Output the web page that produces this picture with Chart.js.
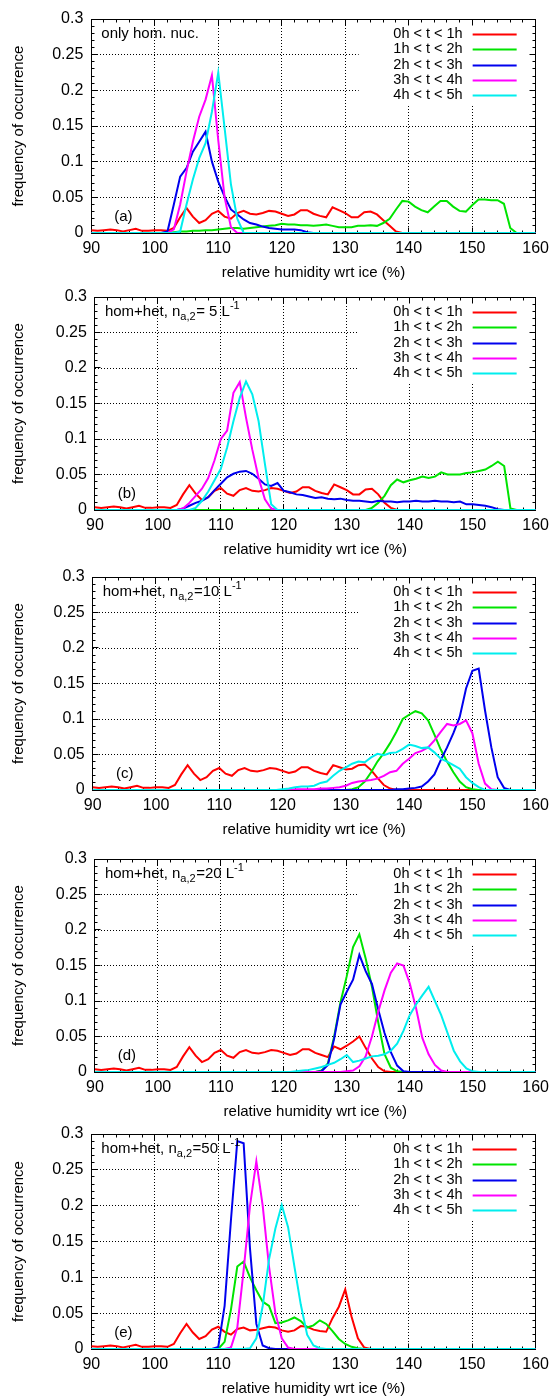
<!DOCTYPE html>
<html>
<head>
<meta charset="utf-8">
<script src="https://cdn.jsdelivr.net/npm/chart.js@4.4.0/dist/chart.umd.min.js"></script>
<style>
html,body{margin:0;padding:0;background:#fff;}
#wrap{position:relative;width:555px;height:1396px;overflow:hidden;background:#fff;}
#wrap canvas{position:absolute;left:0;}
</style>
</head>
<body>
<div id="wrap"></div>
<script>
// ---------- data ----------
const rh = [90,91,92,93,94,95,96,97,98,99,
            100,101,102,103,104,105,106,107,108,109,
            110,111,112,113,114,115,116,117,118,119,
            120,121,122,123,124,125,126,127,128,129,
            130,131,132,133,134,135,136,137,138,139,
            140,141,142,143,144,145,146,147,148,149,
            150,151,152,153,154,155,156,157,158,159,
            160];
const seriesLabels = ['0h < t < 1h','1h < t < 2h','2h < t < 3h','3h < t < 4h','4h < t < 5h'];
const xTickLabels = ['90','100','110','120','130','140','150','160'];
const yTickLabels = ['0','0.05','0.1','0.15','0.2','0.25','0.3'];
const panelTags = ['(a)','(b)','(c)','(d)','(e)'];

// panel (a): only hom. nuc.
const redA = [.004,.003,.004,.005,.004,.002,.004,.006,.003,.003,
              .004,.004,.003,.007,.022,.035,.023,.014,.018,.027,
              .031,.023,.020,.028,.031,.027,.026,.028,.031,.030,
              .027,.024,.026,.032,.032,.027,.024,.022,.036,.032,
              .028,.022,.022,.029,.030,.026,.018,.010,.002,0,
              0,0,0,0,0,0,0,0,0,0,
              0,0,0,0,0,0,0,0,0,0,
              0];
const greenA = [0,0,0,0,0,0,0,0,0,0,
              0,0,0,.001,.002,.002,.003,.003,.004,.004,
              .005,.006,.007,.007,.006,.007,.008,.009,.010,.011,
              .013,.012,.012,.011,.011,.010,.011,.012,.010,.008,
              .008,.008,.010,.010,.011,.010,.014,.020,.033,.045,
              .044,.037,.032,.029,.037,.045,.045,.037,.031,.030,
              .039,.047,.047,.046,.046,.041,.007,0,0,0,
              0];
const blueA = [0,0,0,0,0,0,0,0,0,0,
              0,0,.002,.040,.079,.091,.114,.128,.142,.100,
              .072,.051,.033,.026,.019,.014,.012,.009,.007,.006,
              .005,.005,.005,.004,.001,0,0,0,0,0,
              0,0,0,0,0,0,0,0,0,0,
              0,0,0,0,0,0,0,0,0,0,
              0,0,0,0,0,0,0,0,0,0,
              0];
const magentaA = [0,0,0,0,0,0,0,0,0,0,
              0,0,0,.005,.040,.086,.128,.163,.187,.221,
              .130,.050,.008,0,0,0,0,0,0,0,
              0,0,0,0,0,0,0,0,0,0,
              0,0,0,0,0,0,0,0,0,0,
              0,0,0,0,0,0,0,0,0,0,
              0,0,0,0,0,0,0,0,0,0,
              0];
const cyanA = [0,0,0,0,0,0,0,0,0,0,
              0,0,0,0,.002,.040,.075,.105,.126,.170,
              .225,.147,.068,.020,0,0,0,0,0,0,
              0,0,0,0,0,0,0,0,0,0,
              0,0,0,0,0,0,0,0,0,0,
              0,0,0,0,0,0,0,0,0,0,
              0,0,0,0,0,0,0,0,0,0,
              0];

// panel (b): hom+het, 5 /L
const redB = [.004,.003,.004,.005,.004,.002,.004,.006,.003,.003,
              .004,.004,.003,.007,.022,.035,.023,.014,.018,.027,
              .031,.023,.020,.028,.031,.027,.026,.028,.031,.030,
              .027,.024,.026,.032,.032,.027,.024,.022,.036,.032,
              .028,.022,.022,.029,.030,.022,.010,.003,0,0,
              0,0,0,0,0,0,0,0,0,0,
              0,0,0,0,0,0,0,0,0,0,
              0];
const greenB = [0,0,0,0,0,0,0,0,0,0,
              0,0,0,0,0,0,0,0,0,0,
              0,0,0,0,0,0,0,0,0,0,
              0,0,0,0,0,0,0,0,0,0,
              0,0,0,0,.003,.010,.020,.035,.043,.039,
              .042,.044,.047,.045,.047,.053,.050,.050,.050,.052,
              .053,.055,.057,.062,.068,.062,.002,0,0,0,
              0];
const blueB = [0,0,0,0,0,0,0,0,0,0,
              0,0,0,0,.002,.006,.010,.013,.018,.028,
              .037,.046,.051,.054,.055,.051,.044,.036,.034,.038,
              .027,.025,.022,.021,.019,.017,.018,.016,.015,.016,
              .014,.013,.013,.012,.011,.013,.012,.012,.011,.012,
              .012,.013,.012,.012,.013,.012,.012,.011,.012,.008,
              .008,.007,.006,.004,.001,0,0,0,0,0,
              0];
const magentaB = [0,0,0,0,0,0,0,0,0,0,
              0,0,0,0,.002,.010,.020,.030,.045,.070,
              .100,.112,.165,.180,.130,.085,.045,.015,.002,0,
              0,0,0,0,0,0,0,0,0,0,
              0,0,0,0,0,0,0,0,0,0,
              0,0,0,0,0,0,0,0,0,0,
              0,0,0,0,0,0,0,0,0,0,
              0];
const cyanB = [0,0,0,0,0,0,0,0,0,0,
              0,0,0,0,0,0,.003,.013,.026,.042,
              .058,.088,.125,.158,.181,.163,.125,.065,.008,0,
              0,0,0,0,0,0,0,0,0,0,
              0,0,0,0,0,0,0,0,0,0,
              0,0,0,0,0,0,0,0,0,0,
              0,0,0,0,0,0,0,0,0,0,
              0];

// panel (c): hom+het, 10 /L
const redC = [.004,.003,.004,.005,.004,.002,.004,.006,.003,.003,
              .004,.004,.003,.007,.022,.035,.023,.014,.018,.027,
              .031,.023,.020,.028,.031,.027,.026,.028,.031,.030,
              .027,.024,.026,.032,.032,.027,.024,.022,.035,.032,
              .029,.030,.035,.036,.028,.017,.007,.002,0,0,
              0,0,0,0,0,0,0,0,0,0,
              0,0,0,0,0,0,0,0,0,0,
              0];
const greenC = [0,0,0,0,0,0,0,0,0,0,
              0,0,0,0,0,0,0,0,0,0,
              0,0,0,0,0,0,0,0,0,0,
              0,0,0,0,0,0,0,0,0,0,
              0,.001,.004,.012,.025,.040,.052,.066,.082,.100,
              .106,.111,.108,.098,.078,.057,.040,.025,.012,.004,
              .001,0,0,0,0,0,0,0,0,0,
              0];
const blueC = [0,0,0,0,0,0,0,0,0,0,
              0,0,0,0,0,0,0,0,0,0,
              0,0,0,0,0,0,0,0,0,0,
              0,0,0,0,0,0,0,0,0,0,
              0,0,0,0,0,0,0,0,.001,.001,
              .002,.003,.005,.012,.022,.042,.060,.080,.103,.143,
              .168,.171,.112,.060,.018,.003,0,0,0,0,
              0];
const magentaC = [0,0,0,0,0,0,0,0,0,0,
              0,0,0,0,0,0,0,0,0,0,
              0,0,0,0,0,0,0,0,0,0,
              0,0,.001,.001,.001,.001,.002,.002,.003,.004,
              .006,.010,.012,.013,.014,.016,.020,.025,.027,.037,
              .044,.052,.055,.060,.070,.082,.093,.091,.093,.098,
              .080,.037,.009,.001,0,0,0,0,0,0,
              0];
const cyanC = [0,0,0,0,0,0,0,0,0,0,
              0,0,0,0,0,0,0,0,0,0,
              0,0,0,0,0,0,0,0,0,0,
              .001,.002,.004,.005,.005,.006,.010,.012,.020,.027,
              .032,.037,.040,.039,.046,.051,.049,.052,.053,.058,
              .064,.062,.059,.060,.053,.044,.040,.035,.030,.018,
              .010,.004,0,0,0,0,0,0,0,0,
              0];

// panel (d): hom+het, 20 /L
const redD = [.004,.003,.004,.005,.004,.002,.004,.006,.003,.003,
              .004,.004,.003,.007,.022,.035,.023,.014,.018,.027,
              .031,.023,.020,.028,.031,.027,.026,.028,.031,.030,
              .027,.024,.026,.032,.032,.027,.024,.021,.036,.032,
              .037,.043,.050,.034,.019,.007,.001,0,0,0,
              0,0,0,0,0,0,0,0,0,0,
              0,0,0,0,0,0,0,0,0,0,
              0];
const greenD = [0,0,0,0,0,0,0,0,0,0,
              0,0,0,0,0,0,0,0,0,0,
              0,0,0,0,0,0,0,0,0,0,
              0,0,0,0,0,0,.002,.012,.050,.098,
              .135,.176,.194,.160,.120,.070,.025,.006,.001,0,
              0,0,0,0,0,0,0,0,0,0,
              0,0,0,0,0,0,0,0,0,0,
              0];
const blueD = [0,0,0,0,0,0,0,0,0,0,
              0,0,0,0,0,0,0,0,0,0,
              0,0,0,0,0,0,0,0,0,0,
              0,0,0,0,0,0,.001,.010,.047,.095,
              .113,.130,.165,.142,.124,.088,.055,.028,.009,.001,
              0,0,0,0,0,0,0,0,0,0,
              0,0,0,0,0,0,0,0,0,0,
              0];
const magentaD = [0,0,0,0,0,0,0,0,0,0,
              0,0,0,0,0,0,0,0,0,0,
              0,0,0,0,0,0,0,0,0,0,
              0,0,0,0,0,0,0,0,0,0,
              .001,.002,.008,.022,.050,.085,.115,.140,.153,.150,
              .125,.090,.048,.025,.010,.002,0,0,0,0,
              0,0,0,0,0,0,0,0,0,0,
              0];
const cyanD = [0,0,0,0,0,0,0,0,0,0,
              0,0,0,0,0,0,0,0,0,0,
              0,0,0,0,0,0,0,0,0,0,
              0,0,.001,.002,.003,.005,.007,.010,.013,.018,
              .024,.014,.016,.019,.022,.023,.025,.030,.040,.058,
              .080,.095,.108,.120,.100,.080,.055,.030,.015,.005,
              .001,0,0,0,0,0,0,0,0,0,
              0];

// panel (e): hom+het, 50 /L
const redE = [.004,.003,.004,.005,.004,.002,.004,.006,.003,.003,
              .004,.004,.003,.007,.022,.035,.023,.014,.018,.027,
              .031,.024,.020,.028,.030,.026,.027,.029,.031,.030,
              .026,.024,.026,.032,.031,.027,.025,.024,.043,.059,
              .083,.045,.015,.002,0,0,0,0,0,0,
              0,0,0,0,0,0,0,0,0,0,
              0,0,0,0,0,0,0,0,0,0,
              0];
const greenE = [0,0,0,0,0,0,0,0,0,0,
              0,0,0,0,0,0,0,0,0,0,
              0,.010,.055,.115,.122,.100,.082,.066,.060,.036,
              .037,.040,.044,.039,.030,.033,.040,.035,.025,.014,
              .007,.003,.001,0,0,0,0,0,0,0,
              0,0,0,0,0,0,0,0,0,0,
              0,0,0,0,0,0,0,0,0,0,
              0];
const blueE = [0,0,0,0,0,0,0,0,0,0,
              0,0,0,0,0,0,0,0,0,0,
              .003,.060,.180,.290,.287,.140,.035,.005,.001,0,
              0,0,0,0,0,0,0,0,0,0,
              0,0,0,0,0,0,0,0,0,0,
              0,0,0,0,0,0,0,0,0,0,
              0,0,0,0,0,0,0,0,0,0,
              0];
const magentaE = [0,0,0,0,0,0,0,0,0,0,
              0,0,0,0,0,0,0,0,0,0,
              0,0,.002,.030,.110,.200,.262,.200,.115,.050,
              .015,.002,0,0,0,0,0,0,0,0,
              0,0,0,0,0,0,0,0,0,0,
              0,0,0,0,0,0,0,0,0,0,
              0,0,0,0,0,0,0,0,0,0,
              0];
const cyanE = [0,0,0,0,0,0,0,0,0,0,
              0,0,0,0,0,0,0,0,0,0,
              0,0,0,0,0,.001,.015,.060,.125,.168,
              .201,.170,.115,.062,.020,.005,.001,0,0,0,
              0,0,0,0,0,0,0,0,0,0,
              0,0,0,0,0,0,0,0,0,0,
              0,0,0,0,0,0,0,0,0,0,
              0];

const panelSeries = [
  [redA, greenA, blueA, magentaA, cyanA],
  [redB, greenB, blueB, magentaB, cyanB],
  [redC, greenC, blueC, magentaC, cyanC],
  [redD, greenD, blueD, magentaD, cyanD],
  [redE, greenE, blueE, magentaE, cyanE]
];
const panelNotes = [
  [{t:'only hom. nuc.'}],
  [{t:'hom+het, n'},{t:'a,2',sub:true},{t:'= 5 L'},{t:'-1',sup:true}],
  [{t:'hom+het, n'},{t:'a,2',sub:true},{t:'=10 L'},{t:'-1',sup:true}],
  [{t:'hom+het, n'},{t:'a,2',sub:true},{t:'=20 L'},{t:'-1',sup:true}],
  [{t:'hom+het, n'},{t:'a,2',sub:true},{t:'=50 L'},{t:'-1',sup:true}]
];

// ---------- style / layout ----------
const FONT = "'Liberation Sans', Arial, Helvetica, sans-serif";
const colors = ['#ff0000','#00e400','#0000ee','#ff00ff','#00eeee'];
const plotTop    = [19, 297, 577, 859, 1134];
const plotBottom = [233, 510, 790, 1072, 1349];
const plotLeft   = [91.3, 94.9, 92.7, 94.9, 91.3];
const plotRight  = [536.3, 537.3, 537.3, 537.3, 536.3];
const CANVAS_H = 290;

Chart.defaults.font.family = FONT;
Chart.defaults.color = '#000';

const gnuPlugin = {
  id: 'gnu',
  beforeDatasetsDraw(chart) {
    const {ctx, chartArea: a, scales: {x, y}} = chart;
    const al = (p) => Math.round(p - 0.5) + 0.5;
    ctx.save();
    // opaque key area
    ctx.fillStyle = '#fff';
    ctx.fillRect(a.right - 177, a.top, 177, 87);
    // border
    ctx.strokeStyle = '#000';
    ctx.lineWidth = 1;
    ctx.setLineDash([]);
    const l = al(a.left), r = al(a.right), t = al(a.top), b = al(a.bottom);
    ctx.strokeRect(l, t, r - l, b - t);
    // inward ticks on all four sides
    ctx.beginPath();
    for (let v = 90; v <= 160; v += 2) {
      const px = al(x.getPixelForValue(v));
      const len = (v % 10 === 0) ? 6 : 3;
      ctx.moveTo(px, b); ctx.lineTo(px, b - len);
      ctx.moveTo(px, t); ctx.lineTo(px, t + len);
    }
    for (let k = 0; k <= 30; k++) {
      const py = al(y.getPixelForValue(k / 100));
      const len = (k % 5 === 0) ? 6 : 3;
      ctx.moveTo(l, py); ctx.lineTo(l + len, py);
      ctx.moveTo(r, py); ctx.lineTo(r - len, py);
    }
    ctx.stroke();
    ctx.restore();
  },
  afterDatasetsDraw(chart, args, opts) {
    const {ctx, chartArea: a} = chart;
    ctx.save();
    // key
    ctx.font = '14.5px ' + FONT;
    ctx.textAlign = 'right';
    ctx.textBaseline = 'middle';
    chart.data.datasets.forEach((ds, k) => {
      const yy = a.top + 15 + k * 15.3;
      ctx.fillStyle = '#000';
      ctx.fillText(ds.label, a.right - 73, yy);
      ctx.strokeStyle = ds.borderColor;
      ctx.lineWidth = 2;
      ctx.beginPath();
      ctx.moveTo(a.right - 63, Math.round(yy) + 0.5);
      ctx.lineTo(a.right - 19, Math.round(yy) + 0.5);
      ctx.stroke();
    });
    // note text with sub/superscripts
    ctx.textAlign = 'left';
    ctx.fillStyle = '#000';
    let xx = a.left + 10;
    const baseY = a.top + 15;
    opts.note.forEach(part => {
      if (part.sub || part.sup) {
        ctx.font = '11px ' + FONT;
        ctx.fillText(part.t, xx, baseY + (part.sub ? 5 : -6));
      } else {
        ctx.font = '15px ' + FONT;
        ctx.fillText(part.t, xx, baseY);
      }
      xx += ctx.measureText(part.t).width + (part.sub || part.sup ? 0.5 : 0);
    });
    // panel tag
    ctx.font = '15px ' + FONT;
    ctx.textAlign = 'center';
    ctx.fillText(opts.tag, a.left + 32, a.bottom - 16);
    ctx.restore();
  }
};

const wrap = document.getElementById('wrap');
for (let i = 0; i < 5; i++) {
  const canvas = document.createElement('canvas');
  canvas.width = 555; canvas.height = CANVAS_H;
  canvas.style.width = '555px'; canvas.style.height = CANVAS_H + 'px';
  canvas.style.top = (plotTop[i] - 19) + 'px';
  wrap.appendChild(canvas);
  const plotH = plotBottom[i] - plotTop[i];
  const leftW = plotLeft[i];
  new Chart(canvas, {
    type: 'line',
    data: {
      datasets: panelSeries[i].map((s, k) => ({
        label: seriesLabels[k],
        data: rh.map((xv, j) => ({x: xv, y: s[j]})),
        borderColor: colors[k],
        backgroundColor: colors[k],
        borderWidth: 2,
        pointRadius: 0,
        tension: 0,
        fill: false,
        order: 4 - k
      }))
    },
    options: {
      responsive: false,
      animation: false,
      devicePixelRatio: 1,
      events: [],
      layout: {padding: {left: 0, right: 555 - plotRight[i], top: 19, bottom: CANVAS_H - 19 - plotH - 52}},
      plugins: {
        legend: {display: false},
        tooltip: {enabled: false},
        gnu: {note: panelNotes[i], tag: panelTags[i]}
      },
      scales: {
        x: {
          type: 'linear', min: 90, max: 160,
          ticks: {
            stepSize: 10, autoSkip: false, maxRotation: 0, padding: 6,
            font: {size: 16}, color: '#000',
            callback: (v, idx) => xTickLabels[idx]
          },
          grid: {color: '#000', lineWidth: 1, drawTicks: false},
          border: {display: false, dash: [1, 2]},
          title: {display: true, text: 'relative humidity wrt ice (%)', font: {size: 15}, color: '#000', padding: {top: 0, bottom: 3}},
          afterFit: (s) => { s.height = 52; }
        },
        y: {
          type: 'linear', min: 0, max: 0.3,
          ticks: {
            stepSize: 0.05, padding: 8,
            font: {size: 16}, color: '#000',
            callback: (v, idx) => yTickLabels[idx]
          },
          grid: {color: '#000', lineWidth: 1, drawTicks: false},
          border: {display: false, dash: [1, 2]},
          title: {display: true, text: 'frequency of occurrence', font: {size: 15}, color: '#000', padding: {top: 10, bottom: 0}},
          afterFit: (s) => { s.width = leftW; }
        }
      }
    },
    plugins: [gnuPlugin]
  });
}
</script>
</body>
</html>
